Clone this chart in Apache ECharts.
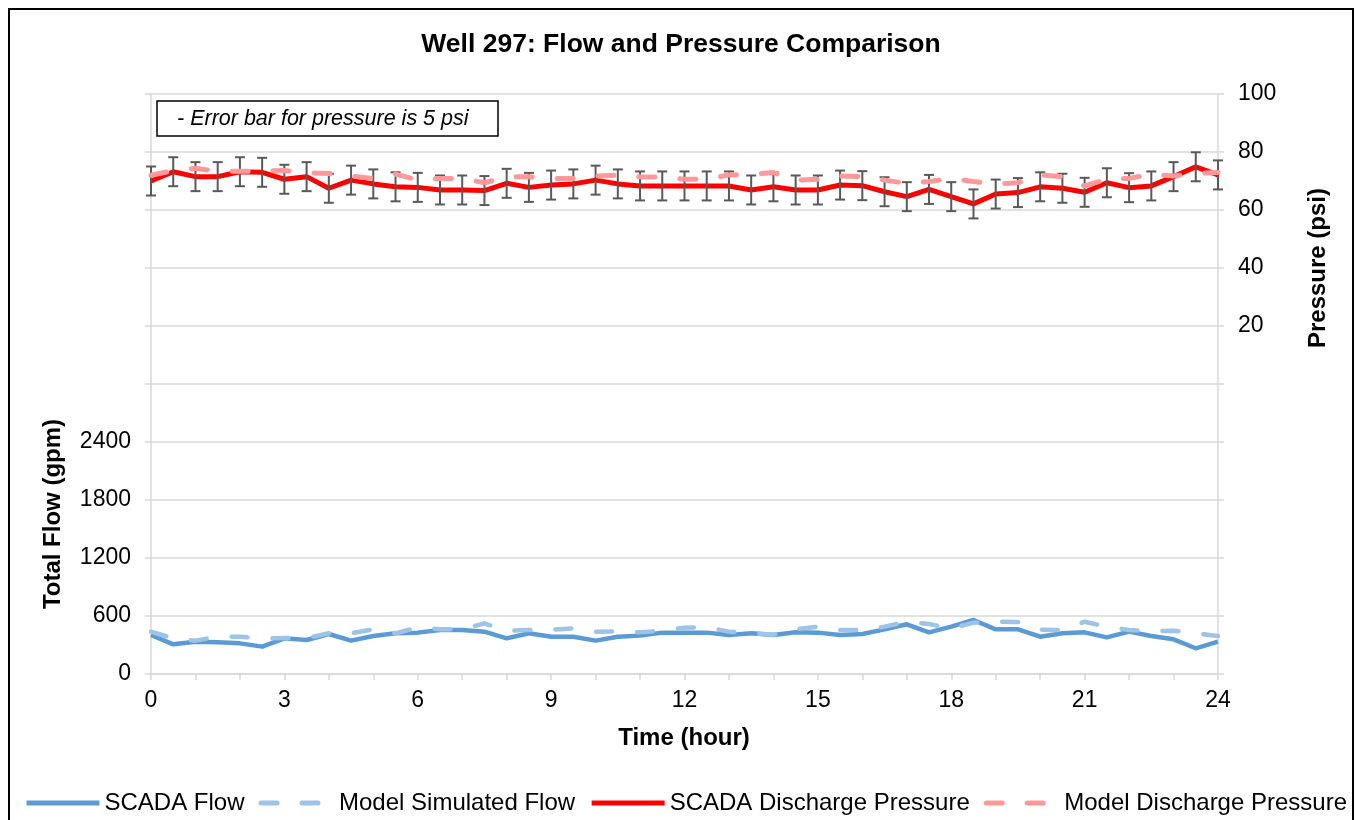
<!DOCTYPE html>
<html><head><meta charset="utf-8">
<script src="https://cdn.jsdelivr.net/npm/echarts@6/dist/echarts.min.js"></script>
<style>html,body{margin:0;padding:0;background:#fff}#c{width:1356px;height:820px}</style>
</head><body><div id="c"></div>
<script>
const hours = [0,0.5,1,1.5,2,2.5,3,3.5,4,4.5,5,5.5,6,6.5,7,7.5,8,8.5,9,9.5,10,10.5,11,11.5,12,12.5,13,13.5,14,14.5,15,15.5,16,16.5,17,17.5,18,18.5,19,19.5,20,20.5,21,21.5,22,22.5,23,23.5,24];
const scadaFlow = [403,307,334,328,317,283,369,352,414,345,393,421,428,455,455,438,369,421,386,386,345,386,397,428,428,428,403,421,403,432,428,403,414,462,514,431,490,559,462,462,386,421,431,379,438,393,359,266,334];
const modelFlow = [438,369,345,386,386,369,372,369,421,421,462,421,483,462,462,524,448,455,459,472,438,441,431,448,479,483,438,421,407,462,490,455,455,490,541,517,472,531,541,538,459,455,541,490,455,441,448,421,393];
const scadaPressure = [70.0,73.2,71.5,71.5,73.2,73.0,70.6,71.5,67.5,70.3,69.0,68.0,67.8,66.9,66.9,66.7,69.2,67.8,68.6,69.0,70.3,69.0,68.3,68.3,68.3,68.3,68.3,66.9,68.0,66.9,66.9,68.6,68.4,66.3,64.6,67.1,64.6,62.1,65.5,66.0,68.0,67.5,66.1,69.4,67.7,68.3,71.5,74.9,72.1];
const modelPressure = [72.0,73.6,74.4,73.2,73.4,73.4,73.6,72.9,72.6,71.7,70.9,72.4,70.3,70.9,70.9,69.4,71.5,71.5,70.9,70.9,71.7,72.0,71.5,71.3,70.6,70.6,72.1,72.3,72.9,70.3,70.6,71.7,71.5,70.3,69.2,69.8,70.9,69.8,69.0,69.4,72.1,71.5,68.3,70.6,70.9,72.4,71.7,72.6,72.9];
const pressureError = 5;
const xTickLabels = [0,3,6,9,12,15,18,21,24];
const flowTickLabels = [0,600,1200,1800,2400];
const pressureTickLabels = [20,40,60,80,100];
const seriesNames = ['SCADA Flow','Model Simulated Flow','SCADA Discharge Pressure','Model Discharge Pressure'];

const FONT = '"Liberation Sans", Arial, sans-serif';
const chart = echarts.init(document.getElementById('c'), null, {renderer:'canvas'});
const grid = '#d9d9d9';
const pair = arr => hours.map((h,i)=>[h, arr[i]]);
const errData = hours.map((h,i)=>[h, scadaPressure[i]-pressureError, scadaPressure[i]+pressureError]);

chart.setOption({
  animation:false,
  backgroundColor:'#fff',
  grid:{left:151, right:138, top:94, bottom:146, containLabel:false},
  legend:{
    data:seriesNames, left:24, top:791, width:1332, padding:0, itemWidth:73, itemHeight:14, itemGap:14,
    textStyle:{fontFamily:FONT, fontSize:24, color:'#000'},
    itemStyle:{opacity:0, borderWidth:0},
    lineStyle:{width:5}
  },
  xAxis:{
    type:'value', min:0, max:24, interval:1,
    axisLine:{show:true, lineStyle:{color:grid, width:1.5}},
    axisTick:{show:true, length:6, lineStyle:{color:grid, width:1.5}},
    axisLabel:{margin:15, fontFamily:FONT, fontSize:23, color:'#000',
      formatter:v=> xTickLabels.includes(v) ? String(v) : ''},
    splitLine:{show:false}
  },
  yAxis:[{
    type:'value', min:0, max:6000, interval:600,
    axisLine:{show:true, lineStyle:{color:grid, width:1.5}},
    axisTick:{show:true, length:6, lineStyle:{color:grid, width:1.5}},
    axisLabel:{margin:20, fontFamily:FONT, fontSize:23, color:'#000',
      formatter:v=> flowTickLabels.includes(v) ? String(v) : ''},
    splitLine:{show:true, lineStyle:{color:grid, width:1.5}}
  },{
    type:'value', min:-100, max:100, interval:20, position:'right',
    axisLine:{show:true, lineStyle:{color:grid, width:1.5}},
    axisTick:{show:true, length:6, lineStyle:{color:grid, width:1.5}},
    axisLabel:{margin:20, fontFamily:FONT, fontSize:23, color:'#000',
      formatter:v=> pressureTickLabels.includes(v) ? String(v) : ''},
    splitLine:{show:false}
  }],
  series:[
    {name:seriesNames[0], type:'line', yAxisIndex:0, data:pair(scadaFlow), symbol:'none', z:2,
     lineStyle:{color:'#5B9BD5', width:4.5, join:'round'}, itemStyle:{color:'#5B9BD5'}},
    {name:seriesNames[1], type:'line', yAxisIndex:0, data:pair(modelFlow), symbol:'none', z:3,
     lineStyle:{color:'#9DC3E6', width:4.5, type:[16,25], cap:'round', join:'round'}, itemStyle:{color:'#9DC3E6'}},
    {name:seriesNames[2], type:'line', yAxisIndex:1, data:pair(scadaPressure), symbol:'none', z:4,
     lineStyle:{color:'#FF0000', width:5, join:'round'}, itemStyle:{color:'#FF0000'}},
    {name:'errorbars', type:'custom', yAxisIndex:1, data:errData, z:5,
     encode:{x:0, y:[1,2]},
     renderItem:(params, api)=>{
       const x = api.value(0);
       const lo = api.coord([x, api.value(1)]);
       const hi = api.coord([x, api.value(2)]);
       const w = 5;
       const st = {stroke:'#595959', lineWidth:2};
       return {type:'group', children:[
         {type:'line', shape:{x1:lo[0], y1:lo[1], x2:hi[0], y2:hi[1]}, style:st},
         {type:'line', shape:{x1:lo[0]-w, y1:lo[1], x2:lo[0]+w, y2:lo[1]}, style:st},
         {type:'line', shape:{x1:hi[0]-w, y1:hi[1], x2:hi[0]+w, y2:hi[1]}, style:st}
       ]};
     }},
    {name:seriesNames[3], type:'line', yAxisIndex:1, data:pair(modelPressure), symbol:'none', z:6,
     lineStyle:{color:'#FF9999', width:5, type:[16,25], cap:'round', join:'round'}, itemStyle:{color:'#FF9999'}}
  ],
  graphic:[
    {type:'rect', z:100, shape:{x:9, y:9, width:1344, height:840}, style:{fill:'none', stroke:'#000', lineWidth:2}},
    {type:'text', z:100, x:681, y:45, style:{text:'Well 297: Flow and Pressure Comparison', fontFamily:FONT, fontSize:26.5, fontWeight:'bold', fill:'#000', align:'center', verticalAlign:'middle'}},
    {type:'rect', z:100, shape:{x:157, y:101, width:341, height:35}, style:{fill:'#fff', stroke:'#000', lineWidth:1.5}},
    {type:'text', z:101, x:177, y:119, style:{text:'- Error bar for pressure is 5 psi', fontFamily:FONT, fontSize:21.5, fontStyle:'italic', fill:'#000', align:'left', verticalAlign:'middle'}},
    {type:'text', z:100, x:53, y:514, rotation:Math.PI/2, style:{text:'Total Flow (gpm)', fontFamily:FONT, fontSize:24, fontWeight:'bold', fill:'#000', align:'center', verticalAlign:'middle'}},
    {type:'text', z:100, x:1318, y:268, rotation:Math.PI/2, style:{text:'Pressure (psi)', fontFamily:FONT, fontSize:24, fontWeight:'bold', fill:'#000', align:'center', verticalAlign:'middle'}},
    {type:'text', z:100, x:684, y:738, style:{text:'Time (hour)', fontFamily:FONT, fontSize:24, fontWeight:'bold', fill:'#000', align:'center', verticalAlign:'middle'}}
  ]
});
</script></body></html>
